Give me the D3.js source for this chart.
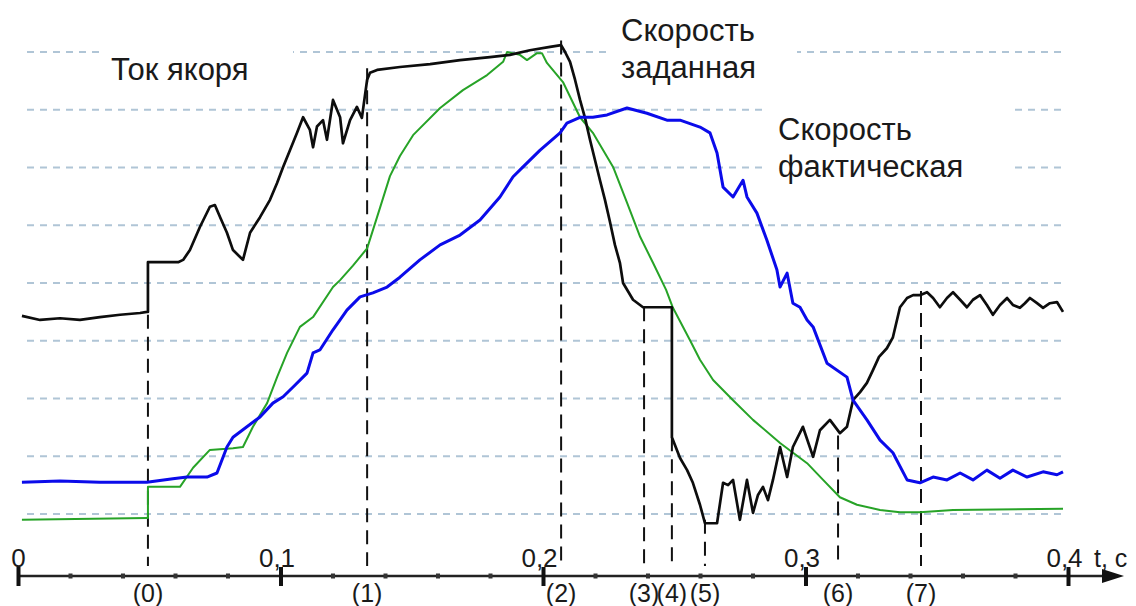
<!DOCTYPE html>
<html>
<head>
<meta charset="utf-8">
<script src="https://cdn.jsdelivr.net/npm/d3@7"></script>
<style>
  body { margin: 0; background: #fff; }
  svg { display: block; font-family: "Liberation Sans", Arial, sans-serif; }
</style>
</head>
<body>
<svg id="chart"></svg>
<script>
// ---- data (t in seconds, values in grid units) ----
const gridLevels = [0, 1, 2, 3, 4, 5, 6, 7, 8];
const axisTicks = [0, 0.1, 0.2, 0.3, 0.4];

const markerNames = ["(0)", "(1)", "(2)", "(3)", "(4)", "(5)", "(6)", "(7)"];
const markerTimes = [0.0495, 0.133, 0.2069, 0.2385, 0.2491, 0.2617, 0.3124, 0.344];
const markerTops = [3.45, 7.72, 8.2, 3.58, 1.33, -0.1, 1.36, 3.86];

const labelTexts = [["Ток якоря"], ["Скорость", "заданная"], ["Скорость", "фактическая"]];

// armature current (black)
const currentPts = [
  [0.0015,3.43],[0.0084,3.36],[0.016,3.39],[0.0236,3.36],[0.0312,3.41],[0.0389,3.45],[0.0465,3.48],[0.0491,3.5],
  [0.0495,3.5],[0.0495,4.36],[0.061,4.36],[0.0629,4.4],[0.0655,4.57],[0.0693,4.97],[0.0731,5.32],[0.075,5.35],
  [0.077,5.14],[0.0796,4.87],[0.0819,4.57],[0.0846,4.45],[0.0857,4.4],[0.0884,4.87],[0.0922,5.14],[0.096,5.44],
  [0.0987,5.73],[0.101,6.01],[0.1036,6.3],[0.1063,6.6],[0.1086,6.87],[0.1112,6.65],[0.1124,6.35],[0.1139,6.71],
  [0.1162,6.82],[0.1177,6.48],[0.12,7.17],[0.1227,6.87],[0.1238,6.42],[0.1265,6.82],[0.1291,7.05],[0.131,6.86],
  [0.133,7.52],[0.1341,7.64],[0.1368,7.69],[0.1455,7.74],[0.157,7.79],[0.1684,7.86],[0.1798,7.91],[0.1874,7.95],
  [0.195,8.03],[0.2027,8.09],[0.2069,8.12],[0.2084,8.0],[0.2103,7.83],[0.2122,7.52],[0.2141,7.17],[0.216,6.86],
  [0.2179,6.48],[0.2198,6.13],[0.2217,5.78],[0.2236,5.44],[0.2255,5.06],[0.2274,4.66],[0.2293,4.35],[0.2305,4.0],
  [0.2343,3.71],[0.2381,3.58],[0.2491,3.58],[0.2491,1.33],[0.2522,0.97],[0.2549,0.76],[0.2571,0.54],[0.2598,0.16],
  [0.2617,-0.16],[0.2644,-0.16],[0.2663,-0.16],[0.2686,0.54],[0.2705,0.5],[0.2724,0.59],[0.275,-0.1],[0.2777,0.59],
  [0.28,0.02],[0.2819,0.33],[0.2838,0.47],[0.2857,0.24],[0.2876,0.59],[0.2903,1.16],[0.293,0.64],[0.2952,1.16],
  [0.299,1.51],[0.3029,0.99],[0.3055,1.45],[0.3093,1.63],[0.3131,1.4],[0.3158,1.51],[0.3181,1.97],[0.3208,2.11],
  [0.3234,2.27],[0.3257,2.49],[0.328,2.72],[0.331,2.87],[0.3333,3.06],[0.336,3.58],[0.3387,3.74],[0.341,3.79],
  [0.3436,3.79],[0.3463,3.84],[0.3486,3.74],[0.3512,3.58],[0.3539,3.74],[0.3562,3.84],[0.3589,3.71],[0.3615,3.58],
  [0.3638,3.71],[0.3665,3.79],[0.3691,3.62],[0.3714,3.45],[0.3741,3.62],[0.3768,3.74],[0.379,3.62],[0.3817,3.57],
  [0.3836,3.65],[0.3855,3.74],[0.3882,3.65],[0.3905,3.57],[0.3931,3.65],[0.3958,3.67],[0.3981,3.5]
];

// set speed (green)
const setSpeedPts = [
  [0.0015,-0.1],[0.0491,-0.07],[0.0495,-0.07],[0.0495,0.47],[0.0617,0.47],[0.0667,0.8],[0.0731,1.11],[0.0819,1.14],
  [0.0857,1.16],[0.0895,1.51],[0.0949,1.92],[0.0987,2.37],[0.1025,2.79],[0.1074,3.24],[0.1124,3.41],[0.12,3.93],
  [0.1227,4.05],[0.1276,4.3],[0.133,4.6],[0.1379,5.3],[0.1417,5.85],[0.1455,6.2],[0.1505,6.56],[0.1608,7.03],
  [0.1695,7.34],[0.1787,7.6],[0.1848,7.83],[0.1863,8.0],[0.1912,7.95],[0.1939,7.86],[0.1977,7.98],[0.1996,7.98],
  [0.2015,7.81],[0.2076,7.48],[0.2141,6.87],[0.219,6.6],[0.2267,6.01],[0.232,5.39],[0.237,4.8],[0.2419,4.35],
  [0.2469,3.88],[0.2495,3.57],[0.256,3.01],[0.2598,2.67],[0.2648,2.32],[0.2724,1.97],[0.28,1.63],[0.2903,1.23],
  [0.3006,0.88],[0.3067,0.59],[0.3131,0.29],[0.3196,0.16],[0.3284,0.07],[0.336,0.03],[0.3436,0.03],[0.3562,0.07],
  [0.3981,0.09]
];

// actual speed (blue)
const actualSpeedPts = [
  [0.0015,0.55],[0.016,0.57],[0.0312,0.55],[0.0491,0.55],[0.059,0.61],[0.0644,0.64],[0.072,0.64],[0.0758,0.71],
  [0.0796,1.16],[0.0819,1.33],[0.0872,1.51],[0.0922,1.68],[0.0971,1.92],[0.101,2.03],[0.1048,2.2],[0.1101,2.44],
  [0.1124,2.79],[0.115,2.84],[0.12,3.19],[0.1227,3.36],[0.1253,3.53],[0.1303,3.76],[0.1352,3.83],[0.1406,3.93],
  [0.1455,4.1],[0.1531,4.4],[0.1608,4.66],[0.1684,4.83],[0.176,5.09],[0.1836,5.49],[0.1886,5.84],[0.1924,6.01],
  [0.1989,6.3],[0.2065,6.6],[0.2091,6.77],[0.2141,6.87],[0.219,6.87],[0.2244,6.91],[0.232,7.03],[0.2396,6.94],
  [0.2472,6.82],[0.2522,6.82],[0.2598,6.7],[0.2636,6.6],[0.2663,6.25],[0.2686,5.66],[0.2724,5.49],[0.2762,5.78],
  [0.2777,5.49],[0.2815,5.21],[0.2853,4.74],[0.2891,4.23],[0.2903,3.93],[0.293,4.17],[0.2952,3.65],[0.2979,3.58],
  [0.3006,3.36],[0.3029,3.24],[0.3082,2.61],[0.3158,2.37],[0.3181,1.97],[0.3234,1.63],[0.3284,1.28],[0.3333,1.06],
  [0.3387,0.59],[0.3436,0.54],[0.3486,0.64],[0.3539,0.59],[0.3589,0.71],[0.3638,0.59],[0.3691,0.76],[0.3741,0.62],
  [0.379,0.76],[0.3844,0.64],[0.3905,0.73],[0.3958,0.68],[0.3981,0.73]
];

// ---- layout ----
const width = 1136, height = 606;
const axisY = 576;
const font = '"Liberation Sans", Arial, sans-serif';

const x = d3.scaleLinear().domain([0, 0.4]).range([18, 1068]);
const y = d3.scaleLinear().domain([0, 8]).range([514, 52]);

const svg = d3.select("#chart")
    .attr("width", width)
    .attr("height", height)
    .attr("viewBox", [0, 0, width, height]);

// dashed grid
svg.append("g")
    .attr("stroke", "#b0c5d6")
    .attr("stroke-width", 2)
    .attr("stroke-dasharray", "7,6")
    .selectAll("line")
    .data(gridLevels)
    .join("line")
    .attr("x1", 27)
    .attr("x2", 1065)
    .attr("y1", d => y(d))
    .attr("y2", d => y(d));

// label boxes and texts
const labelLayout = [
    { box: [100, 36, 193, 60], x: 111, y: 80 },
    { box: [610, 0, 187, 96], x: 621, y: 41 },
    { box: [765, 98, 248, 98], x: 778, y: 140 }
];
const lineGap = 37;

labelTexts.forEach((lines, i) => {
    const L = labelLayout[i];
    svg.append("rect")
        .attr("x", L.box[0]).attr("y", L.box[1])
        .attr("width", L.box[2]).attr("height", L.box[3])
        .attr("fill", "#fff");
    svg.append("text")
        .attr("x", L.x)
        .attr("y", L.y)
        .attr("font-size", 31)
        .attr("fill", "#1a1a1a")
        .selectAll("tspan")
        .data(lines)
        .join("tspan")
        .attr("x", L.x)
        .attr("dy", (d, j) => j === 0 ? 0 : lineGap)
        .text(d => d);
});

// event markers
const markers = markerNames.map((name, i) => ({ name, t: markerTimes[i], top: markerTops[i] }));

svg.append("g")
    .attr("stroke", "#111")
    .attr("stroke-width", 2)
    .attr("stroke-dasharray", "14,8")
    .selectAll("line")
    .data(markers)
    .join("line")
    .attr("x1", d => x(d.t))
    .attr("x2", d => x(d.t))
    .attr("y1", d => y(d.top))
    .attr("y2", axisY - 10);

svg.append("g")
    .attr("font-size", 25)
    .attr("fill", "#1a1a1a")
    .attr("text-anchor", "middle")
    .selectAll("text")
    .data(markers)
    .join("text")
    .attr("x", d => x(d.t))
    .attr("y", 602)
    .text(d => d.name);

// curves
const line = d3.line()
    .x(d => x(d[0]))
    .y(d => y(d[1]));

svg.append("path")
    .datum(setSpeedPts)
    .attr("fill", "none")
    .attr("stroke", "#27a327")
    .attr("stroke-width", 2)
    .attr("stroke-linejoin", "round")
    .attr("d", line);

svg.append("path")
    .datum(currentPts)
    .attr("fill", "none")
    .attr("stroke", "#0d0d0d")
    .attr("stroke-width", 2.7)
    .attr("stroke-linejoin", "round")
    .attr("d", line);

svg.append("path")
    .datum(actualSpeedPts)
    .attr("fill", "none")
    .attr("stroke", "#0b0bea")
    .attr("stroke-width", 3)
    .attr("stroke-linejoin", "round")
    .attr("d", line);

// time axis
svg.append("line")
    .attr("x1", x(0)).attr("x2", 1108)
    .attr("y1", axisY).attr("y2", axisY)
    .attr("stroke", "#222")
    .attr("stroke-width", 2.5);

svg.append("path")
    .attr("d", `M1102,${axisY - 7}L1124,${axisY}L1102,${axisY + 7}Z`)
    .attr("fill", "#111");

const minor = x.ticks(20).filter(t => !axisTicks.some(m => Math.abs(m - t) < 1e-9));
svg.append("g")
    .selectAll("rect")
    .data(minor)
    .join("rect")
    .attr("x", d => x(d) - 2)
    .attr("y", axisY - 2.5)
    .attr("width", 4)
    .attr("height", 5)
    .attr("fill", "#333");

const fmt = d3.formatLocale({ decimal: ",", thousands: "\u00a0", grouping: [3], currency: ["", ""] }).format("~g");

const ax = svg.append("g")
    .attr("transform", `translate(0,${axisY})`)
    .call(d3.axisTop(x).tickValues(axisTicks).tickFormat(fmt).tickSize(9).tickPadding(0));

ax.attr("font-size", 26).attr("font-family", font);
ax.select(".domain").remove();
ax.selectAll(".tick line")
    .attr("y1", 10)
    .attr("y2", -9)
    .attr("stroke", "#111")
    .attr("stroke-width", 4);
ax.selectAll(".tick text")
    .attr("fill", "#1a1a1a")
    .attr("dx", (d, i) => i === 0 ? 0 : -4);

svg.append("text")
    .attr("x", 1094)
    .attr("y", axisY - 9)
    .attr("font-size", 25)
    .attr("fill", "#1a1a1a")
    .text("t, c");
</script>
</body>
</html>
